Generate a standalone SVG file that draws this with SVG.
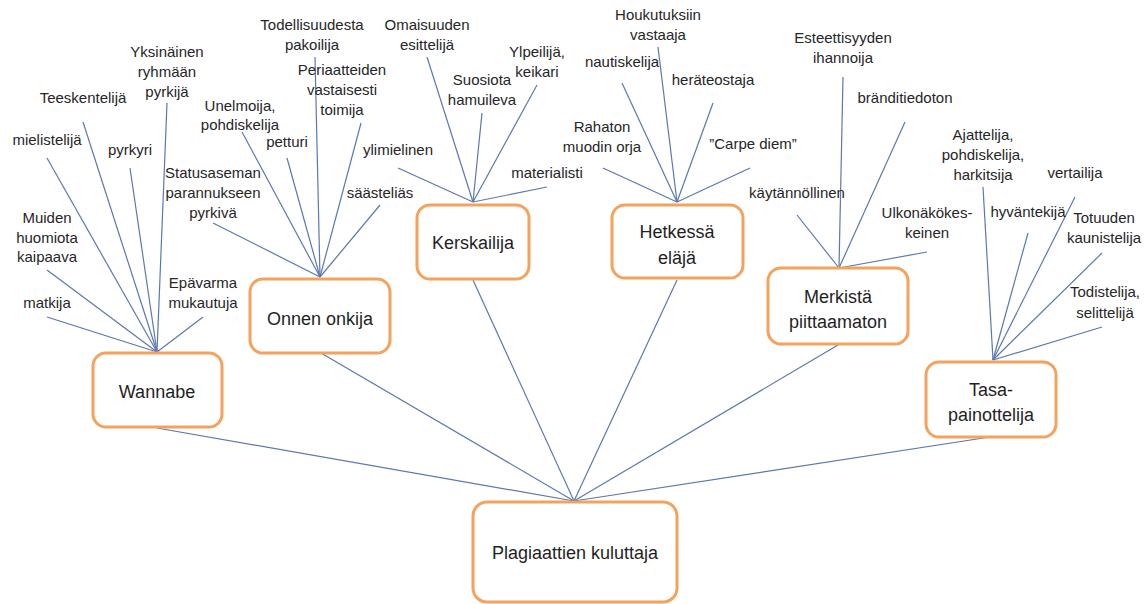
<svg xmlns="http://www.w3.org/2000/svg" width="1145" height="604" viewBox="0 0 1145 604">
  <style>
    .box { fill: #ffffff; stroke: #F4A25C; stroke-width: 3; }
    .node-label { font-family: "Liberation Sans", Arial, sans-serif; font-size: 18px; fill: #1f1f1f; text-anchor: middle; }
    .leaf { font-family: "Liberation Sans", Arial, sans-serif; font-size: 15px; fill: #262626; text-anchor: middle; }
    .edge { stroke: #5B78B2; stroke-width: 1.2; fill: none; }
  </style>

  <rect width="1145" height="604" fill="#ffffff"/>

  <!-- connectors -->
  <g id="connectors" class="edge">
    <!-- root to categories -->
    <line x1="574" y1="501" x2="157" y2="428"/>
    <line x1="574" y1="501" x2="321" y2="353"/>
    <line x1="574" y1="501" x2="473" y2="280"/>
    <line x1="574" y1="501" x2="677" y2="280"/>
    <line x1="574" y1="501" x2="838" y2="345"/>
    <line x1="574" y1="501" x2="990" y2="437"/>
    <!-- Wannabe traits -->
    <line x1="167" y1="103" x2="157" y2="352"/>
    <line x1="83" y1="122" x2="157" y2="352"/>
    <line x1="47" y1="158" x2="157" y2="352"/>
    <line x1="130" y1="168" x2="157" y2="352"/>
    <line x1="47" y1="270" x2="157" y2="352"/>
    <line x1="47" y1="317" x2="157" y2="352"/>
    <line x1="203" y1="317" x2="157" y2="352"/>
    <!-- Onnen onkija traits -->
    <line x1="315" y1="57" x2="320" y2="277"/>
    <line x1="361" y1="123" x2="320" y2="277"/>
    <line x1="242" y1="132" x2="320" y2="277"/>
    <line x1="287" y1="158" x2="320" y2="277"/>
    <line x1="213" y1="223" x2="320" y2="277"/>
    <line x1="380" y1="205" x2="320" y2="277"/>
    <!-- Kerskailija traits -->
    <line x1="427" y1="57" x2="473" y2="202"/>
    <line x1="482" y1="113" x2="473" y2="202"/>
    <line x1="537" y1="85" x2="473" y2="202"/>
    <line x1="398" y1="168" x2="473" y2="202"/>
    <line x1="547" y1="187" x2="473" y2="202"/>
    <!-- Hetkessä eläjä traits -->
    <line x1="658" y1="47" x2="677" y2="202"/>
    <line x1="622" y1="83" x2="677" y2="202"/>
    <line x1="713" y1="103" x2="677" y2="202"/>
    <line x1="603" y1="168" x2="677" y2="202"/>
    <line x1="750" y1="168" x2="677" y2="202"/>
    <!-- Merkistä piittaamaton traits -->
    <line x1="843" y1="77" x2="839" y2="268"/>
    <line x1="905" y1="122" x2="839" y2="268"/>
    <line x1="797" y1="215" x2="839" y2="268"/>
    <line x1="927" y1="252" x2="839" y2="268"/>
    <!-- Tasapainottelija traits -->
    <line x1="983" y1="187" x2="993" y2="360"/>
    <line x1="1028" y1="233" x2="993" y2="360"/>
    <line x1="1075" y1="197" x2="993" y2="360"/>
    <line x1="1102" y1="253" x2="993" y2="360"/>
    <line x1="1102" y1="327" x2="993" y2="360"/>
  </g>

  <!-- category nodes -->
  <g id="node-root">
    <rect class="box" x="473" y="502" width="204" height="100" rx="14"/>
    <text class="node-label" x="575" y="559">Plagiaattien kuluttaja</text>
  </g>
  <g id="node-wannabe">
    <rect class="box" x="93" y="353" width="129" height="74" rx="13"/>
    <text class="node-label" x="157" y="398">Wannabe</text>
  </g>
  <g id="node-onnen-onkija">
    <rect class="box" x="250" y="279" width="140" height="74" rx="13"/>
    <text class="node-label" x="320" y="325">Onnen onkija</text>
  </g>
  <g id="node-kerskailija">
    <rect class="box" x="417" y="205" width="112" height="74" rx="13"/>
    <text class="node-label" x="473" y="249">Kerskailija</text>
  </g>
  <g id="node-hetkessa-elaja">
    <rect class="box" x="612" y="205" width="131" height="73" rx="13"/>
    <text class="node-label" x="677" y="238">Hetkessä</text>
    <text class="node-label" x="677" y="264">eläjä</text>
  </g>
  <g id="node-merkista-piittaamaton">
    <rect class="box" x="768" y="268" width="140" height="76" rx="13"/>
    <text class="node-label" x="838" y="303">Merkistä</text>
    <text class="node-label" x="838" y="328">piittaamaton</text>
  </g>
  <g id="node-tasapainottelija">
    <rect class="box" x="926" y="362" width="130" height="75" rx="13"/>
    <text class="node-label" x="991" y="396">Tasa-</text>
    <text class="node-label" x="991" y="421">painottelija</text>
  </g>

  <!-- trait labels -->
  <g id="traits-wannabe" class="leaf">
    <text x="167" y="57">Yksinäinen</text>
    <text x="167" y="77">ryhmään</text>
    <text x="167" y="97">pyrkijä</text>
    <text x="83" y="103">Teeskentelijä</text>
    <text x="47" y="145">mielistelijä</text>
    <text x="130" y="155">pyrkyri</text>
    <text x="47" y="223">Muiden</text>
    <text x="47" y="243">huomiota</text>
    <text x="47" y="262">kaipaava</text>
    <text x="47" y="308">matkija</text>
    <text x="203" y="288">Epävarma</text>
    <text x="203" y="308">mukautuja</text>
  </g>
  <g id="traits-onnen-onkija" class="leaf">
    <text x="312" y="30">Todellisuudesta</text>
    <text x="312" y="50">pakoilija</text>
    <text x="342" y="75">Periaatteiden</text>
    <text x="342" y="95">vastaisesti</text>
    <text x="342" y="115">toimija</text>
    <text x="240" y="111">Unelmoija,</text>
    <text x="240" y="130">pohdiskelija</text>
    <text x="287" y="147">petturi</text>
    <text x="213" y="178">Statusaseman</text>
    <text x="213" y="198">parannukseen</text>
    <text x="213" y="218">pyrkivä</text>
    <text x="380" y="198">säästeliäs</text>
  </g>
  <g id="traits-kerskailija" class="leaf">
    <text x="427" y="30">Omaisuuden</text>
    <text x="427" y="50">esittelijä</text>
    <text x="482" y="85">Suosiota</text>
    <text x="482" y="105">hamuileva</text>
    <text x="537" y="57">Ylpeilijä,</text>
    <text x="537" y="77">keikari</text>
    <text x="398" y="155">ylimielinen</text>
    <text x="547" y="178">materialisti</text>
  </g>
  <g id="traits-hetkessa-elaja" class="leaf">
    <text x="658" y="20">Houkutuksiin</text>
    <text x="658" y="40">vastaaja</text>
    <text x="622" y="67">nautiskelija</text>
    <text x="713" y="85">heräteostaja</text>
    <text x="602" y="132">Rahaton</text>
    <text x="602" y="152">muodin orja</text>
    <text x="753" y="149">”Carpe diem”</text>
  </g>
  <g id="traits-merkista-piittaamaton" class="leaf">
    <text x="843" y="43">Esteettisyyden</text>
    <text x="843" y="63">ihannoija</text>
    <text x="905" y="103">bränditiedoton</text>
    <text x="797" y="198">käytännöllinen</text>
    <text x="927" y="218">Ulkonäkökes-</text>
    <text x="927" y="238">keinen</text>
  </g>
  <g id="traits-tasapainottelija" class="leaf">
    <text x="983" y="140">Ajattelija,</text>
    <text x="983" y="160">pohdiskelija,</text>
    <text x="983" y="180">harkitsija</text>
    <text x="1028" y="217">hyväntekijä</text>
    <text x="1075" y="178">vertailija</text>
    <text x="1104" y="223">Totuuden</text>
    <text x="1104" y="243">kaunistelija</text>
    <text x="1105" y="297">Todistelija,</text>
    <text x="1105" y="318">selittelijä</text>
  </g>
</svg>
